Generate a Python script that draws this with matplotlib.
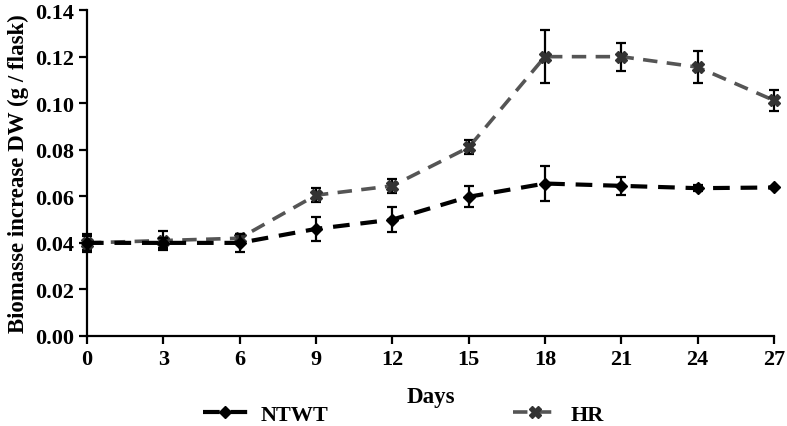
import matplotlib
matplotlib.use('Agg')
import matplotlib.pyplot as plt
from matplotlib.lines import Line2D
import numpy as np

plt.rcParams['font.family'] = ['Liberation Serif', 'DejaVu Serif']
plt.rcParams['font.weight'] = 'bold'

# datos
days = [0, 3, 6, 9, 12, 15, 18, 21, 24, 27]
ntwt = [0.040, 0.040, 0.040, 0.046, 0.050, 0.0598, 0.0655, 0.0645, 0.0635, 0.0638]
ntwt_err = [0.004, 0.002, 0.004, 0.005, 0.0055, 0.0045, 0.0075, 0.004, 0.0012, 0.0003]
hr = [0.040, 0.041, 0.042, 0.0605, 0.0645, 0.081, 0.120, 0.120, 0.1155, 0.1012]
hr_err = [0.003, 0.004, 0.002, 0.003, 0.003, 0.003, 0.0115, 0.006, 0.007, 0.0045]

fig = plt.figure(figsize=(7.87, 4.27), dpi=100)
ax = fig.add_axes([0.1105, 0.2108, 0.873, 0.7632])

dash = (0, (4, 2.6))
hr_style = dict(color='#555555', lw=2.6, ls=dash, marker='X', ms=9,
                mfc='#333333', mec='#333333')
nt_style = dict(color='black', lw=3, ls=dash, marker='D', ms=6,
                mfc='black', mec='black')

ax.errorbar(days, hr, yerr=hr_err, **hr_style,
            ecolor='black', elinewidth=1.6, capsize=3.5, capthick=1.6,
            clip_on=False, zorder=3)
ax.errorbar(days, ntwt, yerr=ntwt_err, **nt_style,
            ecolor='black', elinewidth=1.6, capsize=3.5, capthick=1.6,
            clip_on=False, zorder=4)

ax.set_xlim(0, 27)
ax.set_ylim(0, 0.14)
ax.set_xticks(days)
ax.set_yticks(np.arange(0, 0.141, 0.02))
ax.set_yticklabels([f'{v:.2f}' for v in np.arange(0, 0.141, 0.02)])
ax.tick_params(labelsize=16, width=1.6, length=6, direction='out')
for lab in ax.get_xticklabels() + ax.get_yticklabels():
    lab.set_fontweight('bold')

for s in ['top', 'right']:
    ax.spines[s].set_visible(False)
for s in ['left', 'bottom']:
    ax.spines[s].set_linewidth(1.6)

ax.set_xlabel('Days', fontsize=16.5, fontweight='bold', labelpad=12)
ax.set_ylabel('Biomasse increase DW (g / flask)', fontsize=16.5, fontweight='bold', labelpad=4)

handles = [Line2D([], [], **nt_style), Line2D([], [], **hr_style)]
fig.legend(handles, ['NTWT', 'HR'], loc='lower center', ncol=2,
           bbox_to_anchor=(0.513, -0.045), frameon=False,
           handlelength=2.0, handletextpad=0.6, columnspacing=8.3,
           prop={'weight': 'bold', 'size': 16})

fig.savefig('out.png', dpi=100)
